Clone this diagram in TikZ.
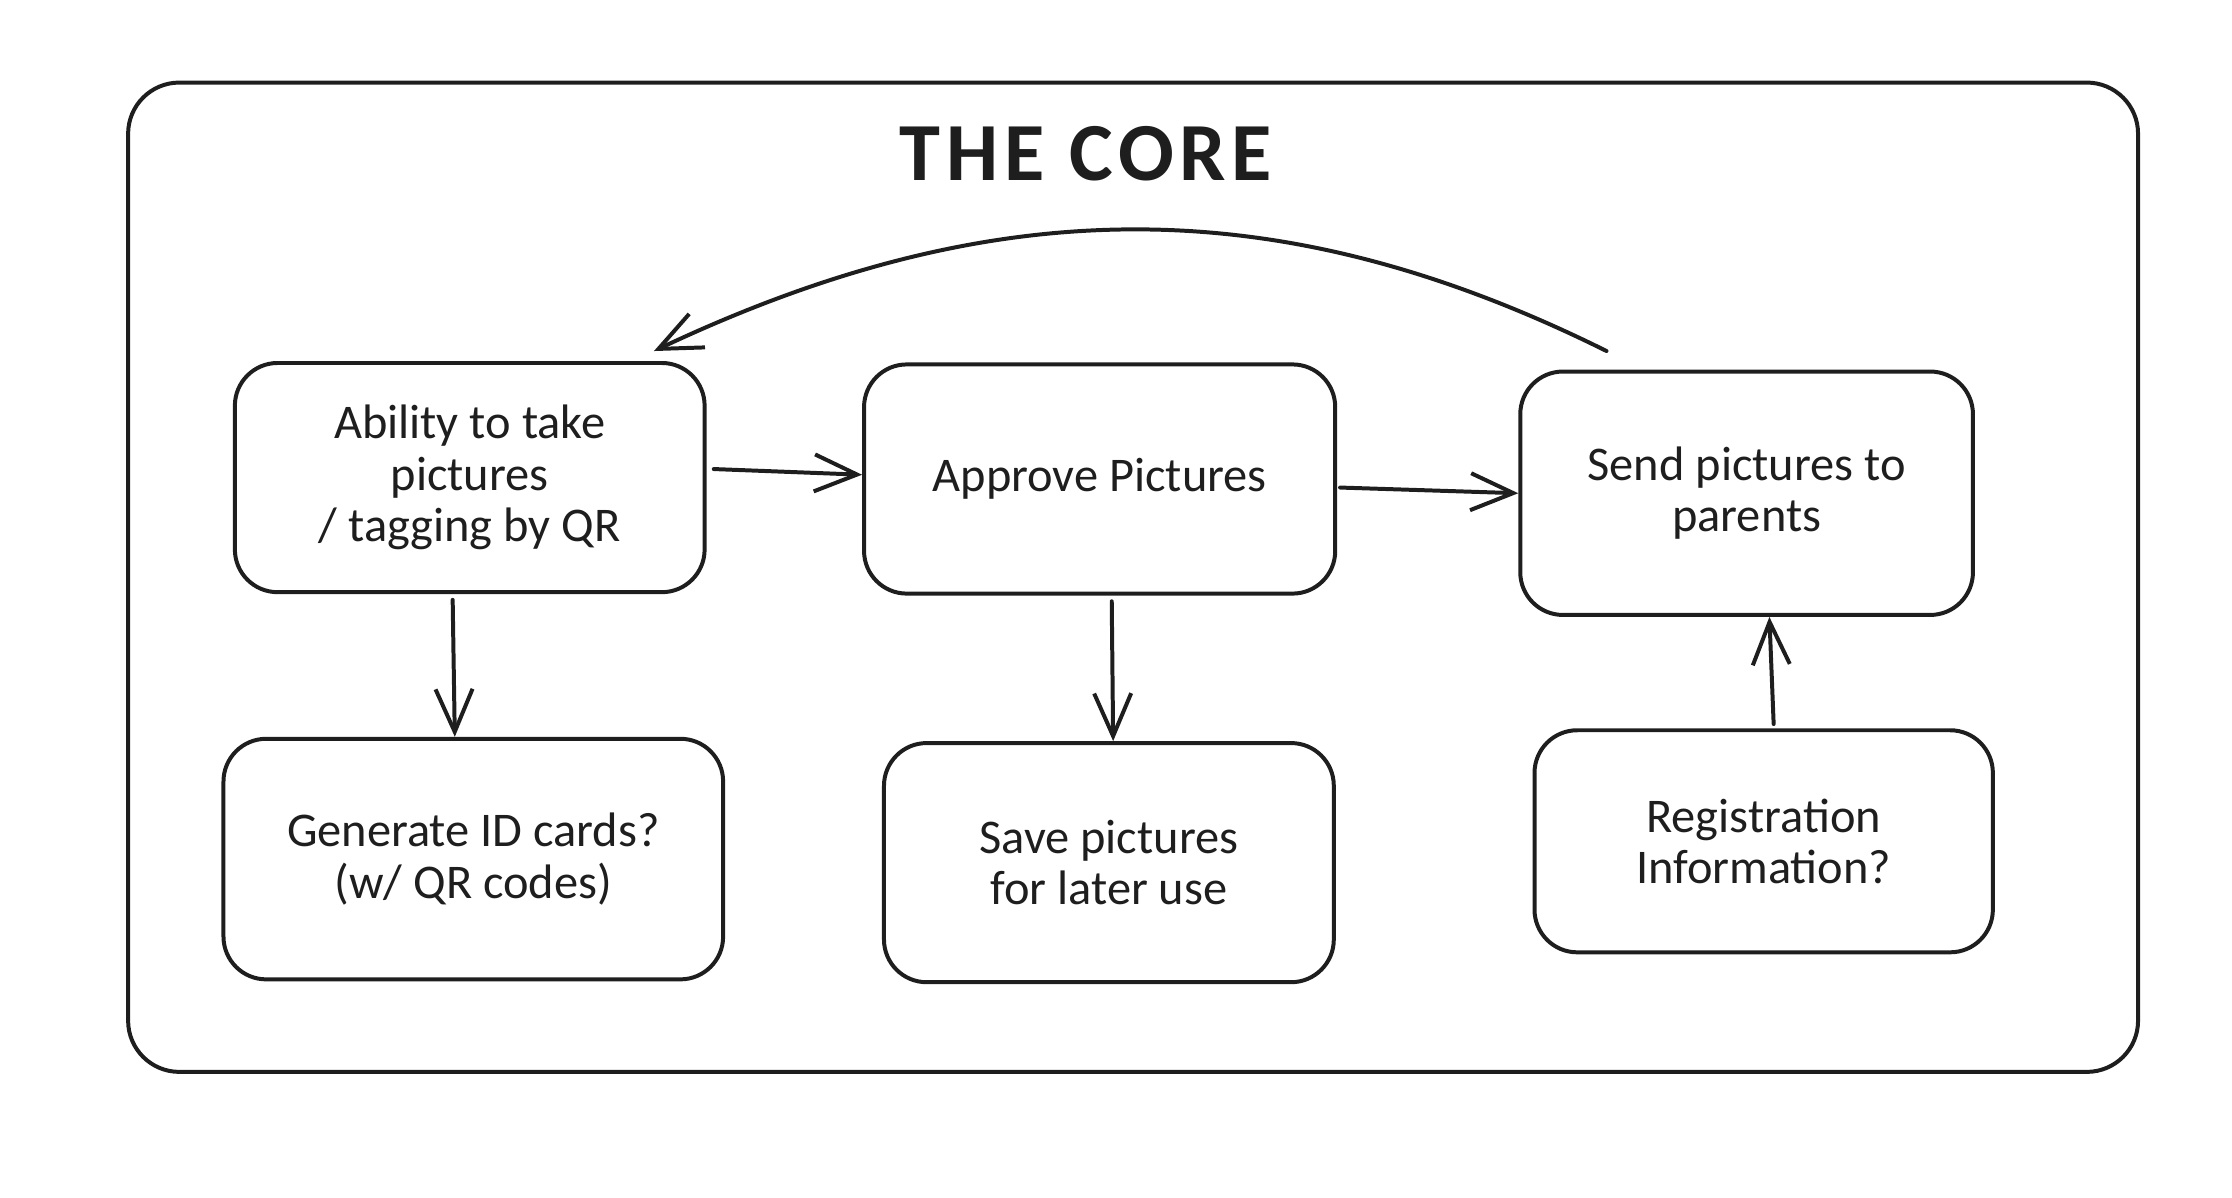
\documentclass[tikz,border=0pt]{standalone}
\usepackage{fontspec}
\setmainfont{Carlito}
\usetikzlibrary{arrows.meta,calc}
\definecolor{ink}{HTML}{1E1E1E}
\begin{document}
\begin{tikzpicture}[x=0.5pt,y=-0.5pt,
  box/.style={draw=ink, line width=1.4pt, rounded corners=15pt, align=center,
    inner sep=0pt, font=\fontsize{17}{18}\selectfont, text=ink},
  arr/.style={draw=ink, line width=1.4pt, line cap=round,
    -{Straight Barb[length=15pt,width=13pt,line width=1.4pt]}},
]
\useasboundingbox (0,0) rectangle (1568,841.6);
\node[draw=ink, line width=1.4pt, rounded corners=18pt, minimum width=706pt,
  minimum height=347.5pt, inner sep=0pt] (frame) at (796,405.5) {};
\node[font=\fontsize{29}{32}\selectfont\bfseries\addfontfeatures{LetterSpace=7}, text=ink] (title) at (763,108) {THE CORE};

\node[box, minimum width=165pt, minimum height=80.5pt] (b1) at (330,335.5)
  {Ability to take\\pictures\\/ tagging by QR};
\node[box, minimum width=165.5pt, minimum height=80.5pt] (b2) at (772.5,336.5)
  {Approve Pictures};
\node[box, minimum width=159pt, minimum height=85.5pt] (b3) at (1227,346.5)
  {Send pictures to\\parents};
\node[box, minimum width=175.5pt, minimum height=84.5pt] (b4) at (332.5,603.5)
  {Generate ID cards?\\(w/ QR codes)};
\node[box, minimum width=158pt, minimum height=84pt] (b5) at (779,606)
  {Save pictures\\for later use};
\node[box, minimum width=161pt, minimum height=78pt] (b6) at (1239,591)
  {Registration\\Information?};

\draw[arr] ([yshift=3pt]b1.east) ++(2.5pt,0) -- ([yshift=1.5pt]b2.west);
\draw[arr] ([xshift=1pt,yshift=-3pt]b2.east) -- (b3.west);
\draw[arr] ([xshift=-6pt,yshift=-2pt]b1.south) -- ([xshift=-6.5pt]b4.north);
\draw[arr] ([xshift=4.25pt,yshift=-2pt]b2.south) -- ([xshift=1.5pt]b5.north);
\draw[arr] ([xshift=3.5pt,yshift=1.5pt]b6.north) -- ([xshift=8pt]b3.south);
\draw[arr] ([shift={(31pt,6.5pt)}]b3.north west) .. controls (900,133) and (700,133)
  .. ([shift={(-18.5pt,3.5pt)}]b1.north east);
\end{tikzpicture}
\end{document}
